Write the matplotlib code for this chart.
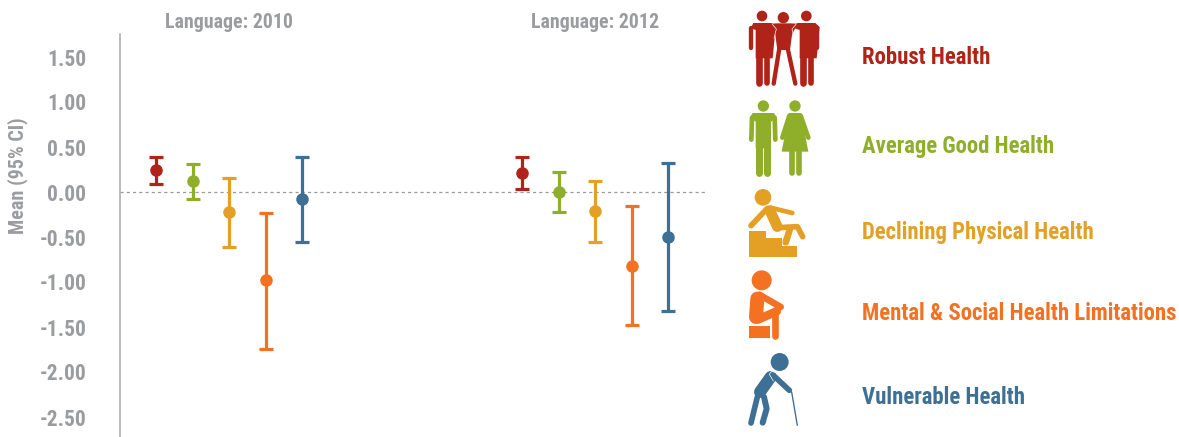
import matplotlib
matplotlib.use("Agg")
import matplotlib.pyplot as plt
from matplotlib import font_manager as fm
from matplotlib.patches import Circle, Polygon

W, H = 1179, 437
names = {f.name for f in fm.fontManager.ttflist}
FONT = next((n for n in ["Roboto Condensed", "Archivo Narrow", "Barlow Semi Condensed",
                         "Liberation Sans Narrow", "Liberation Sans"] if n in names), "DejaVu Sans")

categories = ["Robust Health", "Average Good Health", "Declining Physical Health",
              "Mental & Social Health Limitations", "Vulnerable Health"]
colors = ["#b02318", "#8fae2a", "#e3a024", "#f47122", "#3e6f94"]
panels = ["Language: 2010", "Language: 2012"]
mean_2010 = [0.24, 0.12, -0.22, -0.98, -0.08]
upper_2010 = [0.39, 0.31, 0.16, -0.23, 0.39]
lower_2010 = [0.09, -0.08, -0.61, -1.74, -0.55]
mean_2012 = [0.21, 0.00, -0.21, -0.82, -0.50]
upper_2012 = [0.39, 0.22, 0.12, -0.16, 0.32]
lower_2012 = [0.03, -0.22, -0.55, -1.48, -1.32]
yticks = [1.5, 1.0, 0.5, 0.0, -0.5, -1.0, -1.5, -2.0, -2.5]
GRAY = "#9a9ca0"

fig = plt.figure(figsize=(W / 100, H / 100), dpi=100, facecolor="white")

L, R, T, B = 119.5, 706, 34, 437
ax = fig.add_axes([L / W, 1 - B / H, (R - L) / W, (B - T) / H])
ax.set_ylim((192 - B) / 90, (192 - T) / 90)
step = 36.5
x0 = (156 - L) / step
ax.set_xlim(-x0, (R - L) / step - x0)
for s in ["top", "right", "bottom"]:
    ax.spines[s].set_visible(False)
ax.spines["left"].set_color("#a8a8a8")
ax.spines["left"].set_linewidth(1.1)
ax.set_xticks([])
ax.set_yticks(yticks)
ax.set_yticklabels([f"{v:.2f}" for v in yticks], fontfamily=FONT, fontweight="bold",
                   fontsize=15.5, color=GRAY)
ax.tick_params(axis="y", length=0, pad=24)
ax.axhline(0, color="#9a9a9a", lw=0.9, ls=(0, (2.5, 2.5)), zorder=1)
ax.set_ylabel("Mean (95% CI)", fontfamily=FONT, fontweight="bold", fontsize=14.5, color=GRAY)
ax.yaxis.set_label_coords((28 - L) / (R - L), 1 - (176 - T) / (B - T))

groups = [(0.0, mean_2010, upper_2010, lower_2010), (10.03, mean_2012, upper_2012, lower_2012)]
for off, mean, up, lo in groups:
    for i, c in enumerate(colors):
        ax.errorbar(off + i, mean[i], yerr=[[mean[i] - lo[i]], [up[i] - mean[i]]], fmt="o",
                    color=c, ms=8, lw=2.3, capsize=4.7, capthick=2.3, zorder=3)
for (off, *_), title in zip(groups, panels):
    ax.text(off + 2, (192 - 22) / 90, title, ha="center", va="center", fontfamily=FONT,
            fontweight="bold", fontsize=14.3, color=GRAY, clip_on=False)

ov = fig.add_axes([0, 0, 1, 1], facecolor="none")
ov.set_xlim(0, W)
ov.set_ylim(H, 0)
ov.axis("off")

class Icon:
    """Pictogram drawn in zoom-crop coordinates (3 units per pixel)."""
    def __init__(self, oy, c):
        self.oy, self.c = oy, c
    def P(self, x, y):
        return 740 + x / 3, self.oy + y / 3
    def head(self, x, y, r):
        ov.add_patch(Circle(self.P(x, y), r / 3, color=self.c, lw=0))
    def limb(self, pts, w, c=None):
        xs, ys = zip(*[self.P(*p) for p in pts])
        ov.plot(xs, ys, color=c or self.c, lw=w / 3 * 0.72, solid_capstyle="round",
                solid_joinstyle="round")
    def poly(self, pts, c=None):
        ov.add_patch(Polygon([self.P(*p) for p in pts], closed=True, color=c or self.c, lw=0))

# robust
i = Icon(5, colors[0])
i.head(66, 33, 16); i.head(130, 38, 17); i.head(199, 33, 16)
i.poly([(112, 55), (150, 55), (172, 56), (156, 90), (150, 135), (112, 135), (106, 90), (92, 56)])
i.limb([(118, 130), (101, 236)], 13)
i.limb([(143, 130), (166, 236)], 13)
for dx in (0, 132):
    i.poly([(40 + dx, 54), (94 + dx, 54), (107 + dx, 66), (98 + dx, 160), (47 + dx, 160), (47 + dx, 75), (32 + dx, 70)])
    i.limb([(57 + dx, 155), (57 + dx, 235)], 20)
    i.limb([(80 + dx, 155), (80 + dx, 235)], 17)
i.limb([(33, 68), (33, 128)], 13)
i.limb([(232, 68), (232, 128)], 13)
i.limb([(97, 58), (109, 72), (102, 100)], 2, "white")
i.limb([(168, 58), (156, 72), (162, 100)], 2, "white")

# average good
i = Icon(95, colors[1])
i.head(70, 33, 17); i.head(165, 33, 17)
i.poly([(38, 54), (102, 54), (110, 68), (93, 80), (93, 160), (47, 160), (47, 80), (30, 68)])
i.limb([(36, 68), (34, 134)], 14)
i.limb([(104, 68), (106, 134)], 14)
i.limb([(58, 155), (58, 235)], 21)
i.limb([(82, 155), (82, 235)], 21)
i.poly([(147, 54), (183, 54), (205, 170), (125, 170)])
i.limb([(148, 62), (127, 128)], 14)
i.limb([(182, 62), (205, 128)], 14)
i.limb([(155, 170), (155, 235)], 17)
i.limb([(177, 170), (177, 235)], 17)

# declining physical
i = Icon(180, colors[2])
i.head(69, 52, 25)
i.poly([(27, 152), (78, 152), (78, 175), (125, 175), (125, 197), (171, 197), (171, 230), (27, 230)])
i.limb([(33, 137), (82, 85)], 17)
i.limb([(92, 83), (157, 99)], 14)
i.limb([(90, 92), (112, 140)], 32)
i.limb([(115, 143), (172, 140), (188, 170)], 17)
i.limb([(149, 150), (137, 187)], 20)

# mental & social
i = Icon(262, colors[3])
i.head(65, 55, 30)
i.limb([(52, 110), (48, 165)], 42)
i.limb([(55, 172), (110, 148)], 26)
i.limb([(58, 98), (122, 135)], 20)
i.limb([(104, 145), (104, 223)], 20)
i.poly([(27, 191), (90, 191), (90, 228), (27, 228)])
i.poly([(60, 116), (96, 142), (72, 150)], "white")

# vulnerable
i = Icon(347, colors[4])
i.head(119, 45, 27)
i.limb([(92, 90), (60, 135)], 36)
i.limb([(100, 85), (148, 130)], 17)
i.limb([(155, 135), (172, 235)], 4)
i.limb([(52, 150), (33, 228)], 17)
i.limb([(72, 150), (80, 185), (68, 227)], 18)
i.limb([(88, 82), (95, 72), (103, 76)], 2, "white")
i.limb([(88, 82), (100, 102)], 2, "white")

label_y = [58, 147, 232, 314, 398]
for name, col, y in zip(categories, colors, label_y):
    ov.text(862, y, name, ha="left", va="center", fontfamily=FONT, fontweight="bold",
            fontsize=16.4, color=col)

fig.savefig("out.png", dpi=100, facecolor="white")
